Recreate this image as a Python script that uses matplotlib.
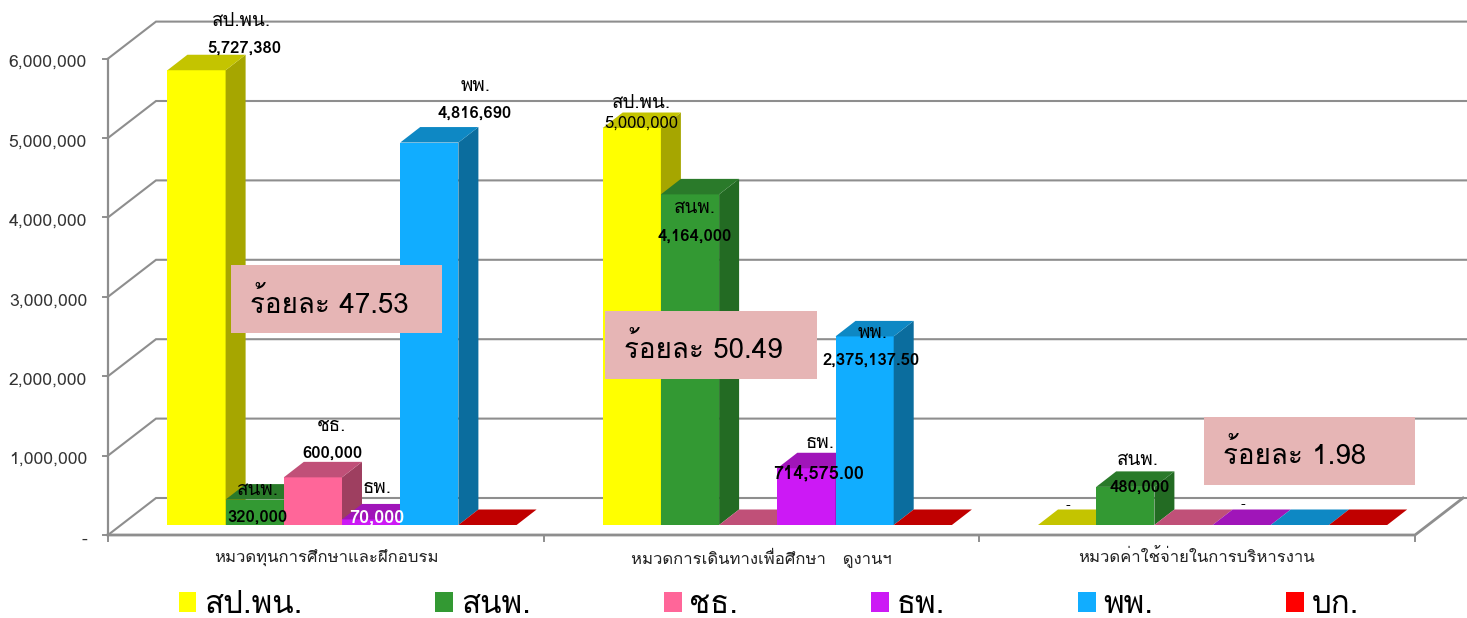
import matplotlib
matplotlib.use("Agg")
import matplotlib.pyplot as plt
from matplotlib.patches import Patch, Polygon, Rectangle

plt.rcParams['font.family'] = ['Loma', 'DejaVu Sans']

# data
categories = ['หมวดทุนการศึกษาและฝึกอบรม', 'หมวดการเดินทางเพื่อศึกษา   ดูงานฯ', 'หมวดค่าใช้จ่ายในการบริหารงาน']
series_names = ['สป.พน.', 'สนพ.', 'ชธ.', 'ธพ.', 'พพ.', 'บก.']
spwn = [5727380, 5000000, 0]
snp = [320000, 4164000, 480000]
chth = [600000, 0, 0]
thp = [70000, 714575, 0]
pp = [4816690, 2375137.5, 0]
bk = [0, 0, 0]
y_ticks = [0, 1000000, 2000000, 3000000, 4000000, 5000000, 6000000]
percents = ['ร้อยละ 47.53', 'ร้อยละ 50.49', 'ร้อยละ 1.98']

all_series = [spwn, snp, chth, thp, pp, bk]

# face, top, side colours for each series
colors = [('#FFFF00', '#C4C400', '#A6A600'),
          ('#339933', '#2A7A2A', '#236B23'),
          ('#FF6699', '#C05078', '#9E3F60'),
          ('#CC19F5', '#A015B9', '#8A129F'),
          ('#11ADFF', '#0E88C4', '#0B6D9E'),
          ('#FF0000', '#C00000', '#A00000')]

W, H = 1467, 618
PX_PER_CAT = 435.3
PX_PER_VAL = 79.4 / 1e6
X0, Y0 = 326, 535      # pixel of category 0 / value 0 on the front plane


# convert picture pixels to data units, used for the 3D offsets and free labels
def xd(px):
    return (px - X0) / PX_PER_CAT


def yd(py):
    return (Y0 - py) / PX_PER_VAL


fig = plt.figure(figsize=(W / 100, H / 100), dpi=100)
ax = fig.add_axes([0, 0, 1, 1])
ax.set_xlim(xd(0), xd(W))
ax.set_ylim(yd(H), yd(0))
ax.axis('off')

# depth steps in data units
wall_dx, wall_dy = 48 / PX_PER_CAT, 37 / PX_PER_VAL
bar_dx, bar_dy = 20 / PX_PER_CAT, 15.5 / PX_PER_VAL
shift_x, shift_y = 16 / PX_PER_CAT, 10 / PX_PER_VAL
bar_w = 58.2 / PX_PER_CAT
GRID = '#8E8E8E'

# walls and floor
x_left, x_right = xd(108), xd(1415)
for v in y_ticks:
    ax.plot([x_left, x_left + wall_dx, xd(W)], [v, v + wall_dy, v + wall_dy],
            color=GRID, lw=1.5, zorder=1, solid_joinstyle='miter')
    ax.plot([xd(103), x_left], [v, v], color=GRID, lw=1.4, zorder=1)
    ax.text(xd(87), v - 0.055e6, '-' if v == 0 else f'{v:,.0f}', ha='right', va='center',
            fontsize=12.7, color='#333333')
ax.plot([x_left, x_left], [0, y_ticks[-1]], color=GRID, lw=1.6, zorder=1)
ax.plot([x_left, x_right, x_right + wall_dx], [0, 0, wall_dy], color=GRID, lw=2, zorder=1)
for i in range(4):
    x = x_left + i * (x_right - x_left) / 3
    ax.plot([x, x], [0, yd(541)], color=GRID, lw=1.4, zorder=1)

# bars, left to right so the next face hides the side of the one before
for g in range(len(categories)):
    for s, vals in enumerate(all_series):
        v = vals[g]
        x0 = g - 3 * bar_w + shift_x + s * bar_w
        y0 = shift_y
        face, top, side = colors[s]
        z = 2 + g * 10 + s
        x1, y1 = x0 + bar_w, y0 + v
        if v > 0:
            ax.add_patch(Rectangle((x0, y0), bar_w, v, fc=face, ec='none', zorder=z))
            ax.add_patch(Polygon([(x1, y0), (x1 + bar_dx, y0 + bar_dy),
                                  (x1 + bar_dx, y1 + bar_dy), (x1, y1)], fc=side, ec='none', zorder=z))
        ax.add_patch(Polygon([(x0, y1), (x1, y1), (x1 + bar_dx, y1 + bar_dy),
                              (x0 + bar_dx, y1 + bar_dy)], fc=top, ec='none', zorder=z))

# category labels
for g, name in enumerate(categories):
    ax.text(g, yd(558), name, ha='center', va='center', fontsize=12, color='#222222')


def label(px, py, text, **kw):
    kw.setdefault('color', 'black')
    ax.text(xd(px), yd(py), text, ha='center', va='center', zorder=60, **kw)


# series name above the value, placed by hand as in the original
name_labels = [(241, 21, 0), (258, 490, 1), (331, 426, 2), (377, 488, 3), (476, 86, 4),
               (641, 103, 0), (695, 208, 1), (820, 443, 3), (873, 333, 4), (1138, 460, 1)]
for px, py, s in name_labels:
    label(px, py, series_names[s], fontsize=13.5)

bold = dict(fontweight='bold', fontsize=12)
label(244, 48, f'{spwn[0]:,}', **bold)
label(257, 517, f'{snp[0]:,}', **bold)
label(332, 453, f'{chth[0]:,}', **bold)
label(377, 517, f'{thp[0]:,}', fontweight='bold', fontsize=13, color='white')
label(475, 113, f'{pp[0]:,}', **bold)
label(641, 124, f'{spwn[1]:,}', fontsize=12)
label(695, 236, f'{snp[1]:,}', **bold)
label(819, 473, f'{thp[1]:,.2f}', fontweight='bold', fontsize=13)
label(871, 360, f'{pp[1]:,.2f}', **bold)
label(1140, 487, f'{snp[2]:,}', **bold)
label(1068, 506, '-', fontsize=10)
label(1243, 505, '-', fontsize=10)

# percentage boxes
boxes = [(231, 265, 442, 333), (605, 311, 817, 379), (1204, 417, 1415, 485)]
for (l, t, r, b), text in zip(boxes, percents):
    ax.add_patch(Rectangle((xd(l), yd(b)), xd(r) - xd(l), yd(t) - yd(b), fc='#E6B5B5', ec='none', zorder=50))
    ax.text(xd(l + 19), yd((t + b) / 2 + 4), text, ha='left', va='center', fontsize=20, zorder=60)

# legend
handles = [Patch(fc=c[0], ec='none', label=n) for c, n in zip(colors, series_names)]
ax.legend(handles=handles, ncol=6, loc='center', bbox_to_anchor=(769 / W, 1 - 605 / H), frameon=False,
          fontsize=22.5, handlelength=0.57, handleheight=0.57, handletextpad=0.25, columnspacing=4.25)

fig.savefig('out.png', dpi=100)
